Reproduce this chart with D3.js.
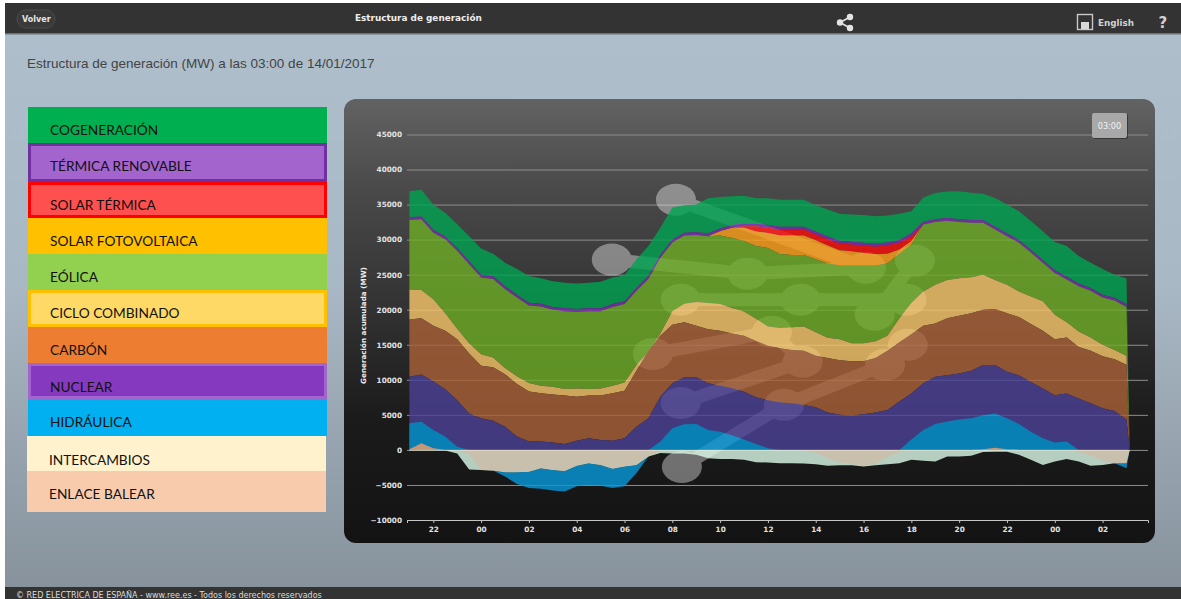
<!DOCTYPE html>
<html lang="es">
<head>
<meta charset="utf-8">
<title>Estructura de generación</title>
<script src="https://cdn.jsdelivr.net/npm/d3@7"></script>
<style>
    body { margin: 0; background: #fff; }
    svg { display: block; }
</style>
</head>
<body>
<div id="frame"></div>
<script>
//cumulative tops (MW), one value every 30 minutes from 21:00 on 12/01 to 03:00 on 14/01
let cogeneracion = [36900,37100,35000,33800,32200,30500,28750,28000,26700,25800,24800,24500,24050,23850,23750,23850,24000,24600,24900,27200,29100,31700,34600,34900,35000,35900,36100,36200,36250,35900,35900,35700,35700,35700,34900,34300,33700,33600,33500,33350,33450,33700,34050,36000,36650,36850,36900,36700,36550,35950,35000,34050,32650,31200,29650,29100,27650,26700,25800,25000,24500];
let termica = [33200,33300,31400,30450,28800,26900,25000,24800,23350,22150,21000,20850,20400,20200,20100,20200,20200,20800,21200,23100,24800,27800,30000,31000,31050,30900,31600,32100,32300,32300,32100,31850,31850,31850,31150,30450,29850,29700,29550,29400,29600,29950,30900,32550,32900,33100,32900,32800,32800,31850,30900,29950,28550,27100,25650,24700,23750,23100,22150,21700,20800];
let solarTermica = [32800,32900,31000,30050,28400,26500,24600,24400,22950,21750,20600,20450,20000,19800,19700,19800,19800,20400,20800,22700,24400,27400,29600,30600,30650,30500,31200,31700,31900,31900,31700,31450,31450,31450,30750,30050,29450,29300,29150,29000,29200,29550,30500,32150,32500,32700,32500,32400,32400,31450,30500,29550,28150,26700,25250,24300,23350,22700,21750,21300,20400];
let fotovoltaica = [32800,32900,31000,30050,28400,26500,24600,24400,22950,21750,20600,20450,20000,19800,19700,19800,19800,20400,20800,22700,24400,27400,29600,30600,30650,30500,31200,31700,31700,31150,30950,30600,30600,30600,29900,29150,28500,28350,28100,27900,28000,28600,29800,32150,32500,32700,32500,32400,32400,31450,30500,29550,28150,26700,25250,24300,23350,22700,21750,21300,20400];
let eolica = [32800,32900,31000,30050,28400,26500,24600,24400,22950,21750,20600,20450,20000,19800,19700,19800,19800,20400,20800,22700,24400,27400,29600,30600,30650,30500,30600,30250,29800,29100,28800,27950,27800,27800,27200,26600,26300,26300,26300,26300,26600,28000,29300,32150,32500,32700,32500,32400,32400,31450,30500,29550,28150,26700,25250,24300,23350,22700,21750,21300,20400];
let ciclo = [22900,22800,21500,19500,17300,15200,13650,13200,11700,10500,9550,9150,9000,8700,8750,8700,8750,9150,9600,12100,14000,16600,19800,20850,21100,20950,20800,20250,19750,18700,17600,17400,17500,17600,16800,16000,15800,15200,15200,15500,16300,18800,20950,22600,23550,24250,24500,24650,25000,24250,23550,22600,21900,21200,19300,18200,16900,16050,15000,14250,13450];
let carbon = [18600,18800,17700,17000,15800,13750,12000,11800,10800,9400,8350,8100,7900,7750,7600,7750,7750,8100,8450,11300,14150,16300,17850,18200,17700,17200,17000,16600,16300,15550,14850,14500,14250,14150,13450,13100,12800,12650,12650,13100,14150,15350,16500,17700,18050,18800,19150,19500,20000,20100,19500,18950,17950,17000,15800,16050,14700,14150,13350,12950,12150];
let nuclear = [10430,10750,9800,8650,7100,5200,4500,4170,3300,1900,1200,1200,1050,850,1300,1650,1400,1300,1650,3300,4500,7600,9500,10350,10350,9500,9150,8800,8300,7500,7100,6750,6650,6400,6100,5350,5000,4900,5100,5350,5700,6900,8050,9500,10450,10650,10900,11300,12100,12100,11150,10650,9700,8750,7800,8050,7350,6650,5950,5550,4350];
let hidraulica = [3800,4000,2850,1900,450,0,0,0,0,0,0,0,0,0,0,0,0,0,0,0,0,1200,3100,3650,3700,2850,2600,2100,1500,850,250,0,0,0,0,0,0,0,0,0,0,0,1500,2850,3700,4050,4350,4500,4950,5200,4500,3700,2600,1650,1050,1200,0,0,0,0,0];
let balear = [100,950,250,40,40,40,40,40,40,40,40,40,40,40,40,40,40,40,40,40,40,40,40,40,40,40,40,40,40,40,40,40,40,40,40,40,40,40,40,40,40,40,40,40,40,40,40,40,100,300,100,40,40,40,40,40,40,40,40,40,40];

//negative side: exports, pumping and the link to the islands
let intercambios = [-80,-80,-80,-80,-500,-2800,-2850,-2950,-3200,-3200,-3100,-2600,-2850,-3000,-2250,-1900,-2150,-2700,-2350,-2150,-950,-450,-500,-500,-700,-1200,-1300,-1300,-1400,-1750,-1800,-1900,-1900,-1950,-2050,-2250,-2200,-2200,-2350,-2200,-2050,-1900,-1400,-1550,-1650,-950,-950,-850,-300,-250,-250,-700,-1400,-2150,-1650,-1300,-1650,-2250,-2150,-1900,-1900];
let bombeo = [-80,-80,-80,-80,-500,-2800,-2850,-2950,-3800,-4850,-5450,-5550,-5800,-5950,-5200,-5000,-5100,-5450,-5200,-3300,-950,-450,-500,-500,-700,-1200,-1300,-1300,-1400,-1750,-1800,-1900,-1900,-1950,-2050,-2250,-2200,-2200,-2350,-2200,-2050,-1900,-1400,-1550,-1650,-950,-950,-850,-300,-250,-250,-700,-1400,-2150,-1650,-1300,-1650,-2250,-2150,-1900,-2600];
let balearNeg = [-60,-60,-60,-60,-60,-600,-2850,-2950,-3200,-3200,-3100,-2600,-2850,-3000,-2250,-1900,-2150,-2700,-2350,-2150,-950,-100,-60,-60,-60,-60,-60,-60,-60,-60,-60,-60,-60,-60,-400,-1200,-1800,-2000,-2200,-2000,-1000,-300,-60,-60,-60,-60,-60,-60,-60,-60,-60,-60,-60,-60,-60,-60,-300,-800,-1500,-1900,-1900];

//legend
let legendNames = ["COGENERACIÓN", "TÉRMICA RENOVABLE", "SOLAR TÉRMICA", "SOLAR FOTOVOLTAICA", "EÓLICA", "CICLO COMBINADO", "CARBÓN", "NUCLEAR", "HIDRÁULICA", "INTERCAMBIOS", "ENLACE BALEAR"];
let legendFills = ["#00b050", "#a464ce", "#ff5050", "#ffc000", "#92d050", "#ffd966", "#ed7d31", "#8539bf", "#00b0f0", "#fff2cc", "#f8cbad"];
let legendEdges = [null, "#7030a0", "#ff0000", null, null, "#ffc000", null, "#a464ce", null, null, null];

//ticks
let yTicks = d3.range(-10000, 45001, 5000);

//grey guide marks sitting behind the areas
let guideHours = [11.15, 8.47, 14.16, 19.1, 11.36, 16.38, 20.8, 19.48, 21.15, 10.19, 15.17, 16.46, 19.9, 20.86, 11.36, 15.67, 11.4];
let guideValues = [35700, 27150, 25150, 26000, 21430, 21430, 21430, 19300, 27000, 13700, 16850, 12570, 12140, 15000, 6700, 6430, -2430];
let guideLinks = [[0, 3], [1, 2], [2, 3], [4, 5], [5, 6], [7, 8], [9, 10], [14, 11], [15, 12], [12, 13], [16, 15], [11, 10]];

let svg = d3.select("#frame")
    .append("svg")
    .attr("width", 1181)
    .attr("height", 599);

let defs = svg.append("defs");

function gradient(id, stops) {
    let g = defs.append("linearGradient").attr("id", id).attr("x1", 0).attr("x2", 0).attr("y1", 0).attr("y2", 1);
    stops.forEach(s => g.append("stop").attr("offset", s[0]).attr("stop-color", s[1]));
}
gradient("pageBg", [[0, "#aebecb"], [0.45, "#a9b8c5"], [1, "#87929c"]]);
gradient("panelBg", [[0, "#626262"], [0.2, "#4a4a4a"], [0.45, "#343434"], [0.72, "#1b1b1b"], [1, "#131313"]]);

//page
svg.append("rect").attr("x", 5).attr("y", 34).attr("width", 1176).attr("height", 553).attr("fill", "url(#pageBg)");
svg.append("rect").attr("x", 5).attr("y", 3).attr("width", 1176).attr("height", 31).attr("fill", "#333333");
svg.append("rect").attr("x", 5).attr("y", 33).attr("width", 1176).attr("height", 1.5).attr("fill", "#6d6f72");
svg.append("rect").attr("x", 5).attr("y", 587).attr("width", 1176).attr("height", 12).attr("fill", "#333333");

//header
svg.append("rect").attr("x", 17).attr("y", 10).attr("width", 38).attr("height", 18).attr("rx", 9)
    .attr("fill", "#3a3a3a").attr("stroke", "#4c4c4c");
function label(x, y, text, size, color, weight, family) {
    return svg.append("text").attr("x", x).attr("y", y).text(text)
        .style("font-size", size + "px").style("fill", color)
        .style("font-weight", weight || "normal")
        .style("font-family", family || "'DejaVu Sans', sans-serif");
}
label(22, 22, "Volver", 8, "#e6e6e6", "bold");
label(355, 20.5, "Estructura de generación", 8.9, "#eeeeee", "bold");
label(1098, 26, "English", 8.8, "#d0d0d0", "bold");
label(1158.5, 28, "?", 15, "#d0d0d0", "bold");

//share icon
let share = svg.append("g").style("fill", "#e4e4e4").style("stroke", "#e4e4e4").style("stroke-width", 1.6);
share.append("path").attr("d", "M850 17L840 22.5L850 28").attr("fill", "none");
share.append("circle").attr("cx", 850).attr("cy", 17).attr("r", 2.4);
share.append("circle").attr("cx", 840).attr("cy", 22.5).attr("r", 2.4);
share.append("circle").attr("cx", 850).attr("cy", 28).attr("r", 2.4);

//language icon
svg.append("rect").attr("x", 1077.5).attr("y", 14.5).attr("width", 15).attr("height", 15)
    .attr("fill", "#333").attr("stroke", "#c8c8c8").attr("stroke-width", 1.4);
svg.append("rect").attr("x", 1081).attr("y", 22).attr("width", 8).attr("height", 7).attr("fill", "#d8d8d8");

//title and footer
label(27, 68, "Estructura de generación (MW) a las 03:00 de 14/01/2017", 13.5, "#444", "normal", "'Liberation Sans', sans-serif");
label(16, 597.5, "© RED ELECTRICA DE ESPAÑA - www.ree.es - Todos los derechos reservados", 8, "#dcdcdc", "normal", "'DejaVu Sans', sans-serif");

//legend rows, the last two sit one pixel to the left
let rowTops = [107, 143, 182, 218, 254, 290, 327, 363, 399, 436, 471, 512];
let rowBase = [134.5, 170.5, 209.5, 245.5, 281.5, 317.5, 354.5, 391.5, 426.5, 464.5, 498.5];
let legend = svg.append("g");
legendNames.forEach((name, i) => {
    let shift = i > 8 ? -1 : 0;
    let bw = legendEdges[i] ? 3 : 0;
    legend.append("rect")
        .attr("x", 28 + shift + bw / 2)
        .attr("y", rowTops[i] + bw / 2)
        .attr("width", 299 - bw)
        .attr("height", rowTops[i + 1] - rowTops[i] - bw)
        .attr("fill", legendFills[i])
        .attr("stroke", legendEdges[i] || "none")
        .attr("stroke-width", bw);
    legend.append("text")
        .attr("x", 50 + shift)
        .attr("y", rowBase[i])
        .text(name)
        .style("font-family", "Lato, sans-serif")
        .style("font-size", "13.7px")
        .style("fill", "#111");
});

//chart panel
svg.append("rect").attr("x", 344).attr("y", 99).attr("width", 811).attr("height", 444).attr("rx", 12)
    .attr("fill", "url(#panelBg)");

//scales
let start = new Date(Date.UTC(2017, 0, 12, 21));
let stamps = d3.utcMinute.every(30).range(start, new Date(Date.UTC(2017, 0, 14, 3, 1)));
stamps.push(new Date(Date.UTC(2017, 0, 14, 3, 8)));

let x = d3.scaleUtc()
    .domain([new Date(Date.UTC(2017, 0, 12, 20, 54)), new Date(Date.UTC(2017, 0, 14, 3, 54))])
    .range([407, 1148]);
let y = d3.scaleLinear()
    .domain([-10000, 45000])
    .range([520, 134.5]);

//y axis with its grid
let yAxis = svg.append("g")
    .attr("transform", "translate(407,0)")
    .call(d3.axisLeft(y).tickValues(yTicks).tickSize(-741).tickPadding(5).tickFormat(d3.format("d")));
yAxis.select(".domain").remove();
yAxis.selectAll("line").attr("stroke", "#8d8d8d").attr("stroke-width", 1);
yAxis.selectAll("text")
    .style("font-family", "'DejaVu Sans', sans-serif")
    .style("font-weight", "bold")
    .style("font-size", "7.3px")
    .style("fill", "#e2e2e2");

//guide marks
let guides = svg.append("g").attr("opacity", 0.38);
guideLinks.forEach(l => {
    guides.append("line")
        .attr("x1", x(d3.utcMinute.offset(start, guideHours[l[0]] * 60)))
        .attr("y1", y(guideValues[l[0]]))
        .attr("x2", x(d3.utcMinute.offset(start, guideHours[l[1]] * 60)))
        .attr("y2", y(guideValues[l[1]]))
        .attr("stroke", "#fff")
        .attr("stroke-width", 13);
});
guideHours.forEach((h, i) => {
    guides.append("ellipse")
        .attr("cx", x(d3.utcMinute.offset(start, h * 60)))
        .attr("cy", y(guideValues[i]))
        .attr("rx", 20)
        .attr("ry", 16)
        .attr("fill", "#fff");
});

//areas, the whole group is see through so the guides show under it
let zero = stamps.map(() => 0);
let bands = [
    [cogeneracion, termica, "#00a451"],
    [termica, solarTermica, "#7c2ab9"],
    [solarTermica, fotovoltaica, "#ff0b0b"],
    [fotovoltaica, eolica, "#ffa019"],
    [eolica, ciclo, "#6ead26"],
    [ciclo, carbon, "#f9c76a"],
    [carbon, nuclear, "#ab6238"],
    [nuclear, zero, "#4c4198"],
    [hidraulica, zero, "#069adb"],
    [balear, zero, "#f2b78e"],
    [intercambios, zero, "#ddfcea"],
    [bombeo, intercambios, "#069adb"],
    [balearNeg, zero, "#f5ead3"]
];
let area = d3.area()
    .x((d, i) => x(stamps[i]))
    .y0(d => y(d[1]))
    .y1(d => y(d[0]));

svg.append("g")
    .attr("opacity", 0.8)
    .selectAll("path")
    .data(bands)
    .enter()
    .append("path")
    .attr("d", b => area(stamps.map((t, i) => [b[0][i] || 0, b[1][i] || 0])))
    .attr("fill", b => b[2]);

//x axis
let xAxis = svg.append("g")
    .attr("transform", "translate(0,520)")
    .call(d3.axisBottom(x).ticks(d3.utcHour.every(2)).tickFormat(d3.utcFormat("%H")).tickSize(3).tickPadding(4));
xAxis.select(".domain").attr("stroke", "#c4c4c4");
xAxis.selectAll("line").attr("stroke", "#c4c4c4");
xAxis.selectAll("text")
    .style("font-family", "'DejaVu Sans', sans-serif")
    .style("font-weight", "bold")
    .style("font-size", "7.3px")
    .style("fill", "#e2e2e2");

//y title
svg.append("text")
    .attr("transform", "translate(365.5,325.5) rotate(-90)")
    .attr("text-anchor", "middle")
    .text("Generación acumulada (MW)")
    .style("font-family", "'DejaVu Sans', sans-serif")
    .style("font-weight", "bold")
    .style("font-size", "7.2px")
    .style("fill", "#eeeeee");

//time badge
svg.append("rect").attr("x", 1093).attr("y", 114).attr("width", 35).attr("height", 25).attr("rx", 2).attr("fill", "#222").attr("opacity", 0.6);
svg.append("rect").attr("x", 1092).attr("y", 113).attr("width", 35).attr("height", 25).attr("rx", 2).attr("fill", "#a8a8a8");
label(1109.5, 129, "03:00", 8.2, "#f2f2f2").attr("text-anchor", "middle");
</script>
</body>
</html>
